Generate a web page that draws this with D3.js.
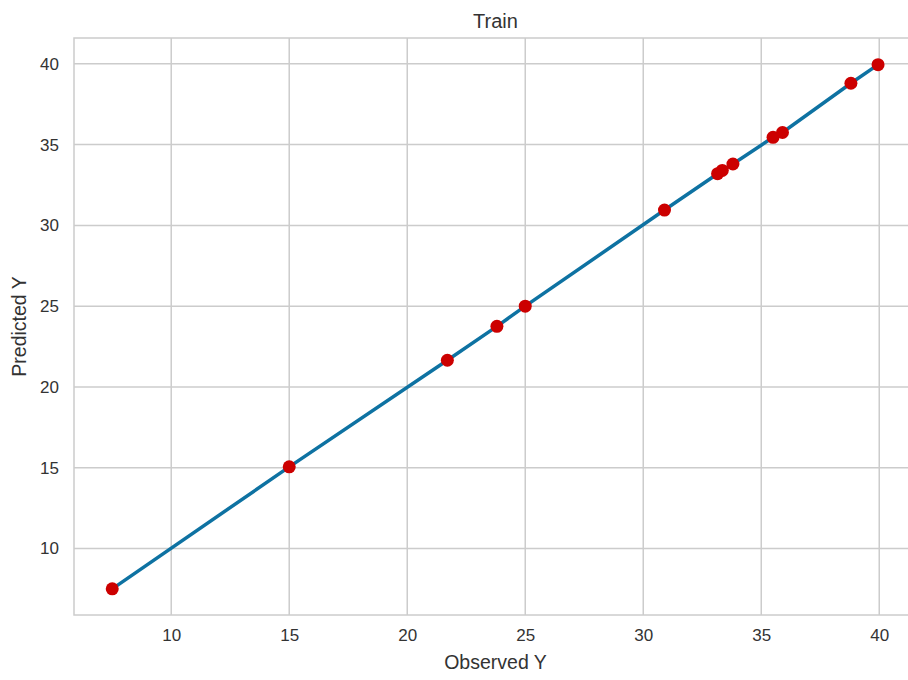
<!DOCTYPE html>
<html>
<head>
<meta charset="utf-8">
<script src="https://cdn.jsdelivr.net/npm/d3@7"></script>
<style>
  body { margin: 0; background: #fff; }
  svg { display: block; font-family: "Liberation Sans", Arial, sans-serif; }
  .grid line { stroke: #cccccc; stroke-width: 1.5; }
  .tick text { fill: #333; font-size: 17px; }
</style>
</head>
<body>
<script>
// data
let observed  = [7.5, 15.0, 21.7, 23.8, 25.0, 30.9, 33.15, 33.35, 33.8, 35.5, 35.9, 38.8, 39.95];
let predicted = [7.5, 15.05, 21.65, 23.75, 25.0, 30.95, 33.2, 33.4, 33.8, 35.45, 35.75, 38.8, 39.95];
let xTicks = [10, 15, 20, 25, 30, 35, 40];
let yTicks = [10, 15, 20, 25, 30, 35, 40];

let width = 908;
let height = 680;
let plot = { left: 74, right: 917, top: 38, bottom: 615 };   // right side is cut off, like the reference

let svg = d3.select('body').append('svg')
   .attr('width', width)
   .attr('height', height);

let points = observed.map((d, i) => ({ x: d, y: predicted[i] }));

let xScale = d3.scaleLinear().domain([5.88, 41.6]).range([plot.left, plot.right]);
let yScale = d3.scaleLinear().domain([5.88, 41.6]).range([plot.bottom, plot.top]);

// grid lines
let grid = svg.append('g').attr('class', 'grid');
grid.selectAll('.gx').data(xTicks).enter().append('line')
   .attr('x1', d => xScale(d)).attr('x2', d => xScale(d))
   .attr('y1', plot.top).attr('y2', plot.bottom);
grid.selectAll('.gy').data(yTicks).enter().append('line')
   .attr('x1', plot.left).attr('x2', plot.right)
   .attr('y1', d => yScale(d)).attr('y2', d => yScale(d));

// frame
svg.append('rect')
   .attr('x', plot.left).attr('y', plot.top)
   .attr('width', plot.right - plot.left).attr('height', plot.bottom - plot.top)
   .attr('fill', 'none').attr('stroke', '#cccccc').attr('stroke-width', 1.5);

// axes (tick labels only)
let xAxis = d3.axisBottom(xScale).tickValues(xTicks).tickSize(0).tickPadding(14);
let yAxis = d3.axisLeft(yScale).tickValues(yTicks).tickSize(0).tickPadding(15);
svg.append('g').attr('transform', 'translate(0,' + plot.bottom + ')').call(xAxis)
   .call(g => g.select('.domain').remove());
svg.append('g').attr('transform', 'translate(' + plot.left + ',0)').call(yAxis)
   .call(g => g.select('.domain').remove());

// line through the predictions
svg.append('path')
   .datum(points)
   .attr('fill', 'none')
   .attr('stroke', '#0e72a2')
   .attr('stroke-width', 3.5)
   .attr('d', d3.line().x(d => xScale(d.x)).y(d => yScale(d.y)));

// dots
svg.selectAll('circle')
   .data(points)
   .enter()
   .append('circle')
   .attr('cx', d => xScale(d.x))
   .attr('cy', d => yScale(d.y))
   .attr('r', 6.5)
   .attr('fill', '#cc0000');

// title and axis captions
svg.append('text')
   .attr('x', (plot.left + plot.right) / 2).attr('y', 28)
   .attr('text-anchor', 'middle')
   .attr('fill', '#333').style('font-size', '20px')
   .text('Train');
svg.append('text')
   .attr('x', (plot.left + plot.right) / 2).attr('y', 669)
   .attr('text-anchor', 'middle')
   .attr('fill', '#333').style('font-size', '19.5px')
   .text('Observed Y');
svg.append('text')
   .attr('transform', 'translate(26,' + (plot.top + plot.bottom) / 2 + ') rotate(-90)')
   .attr('text-anchor', 'middle')
   .attr('fill', '#333').style('font-size', '19.5px')
   .text('Predicted Y');
</script>
</body>
</html>
